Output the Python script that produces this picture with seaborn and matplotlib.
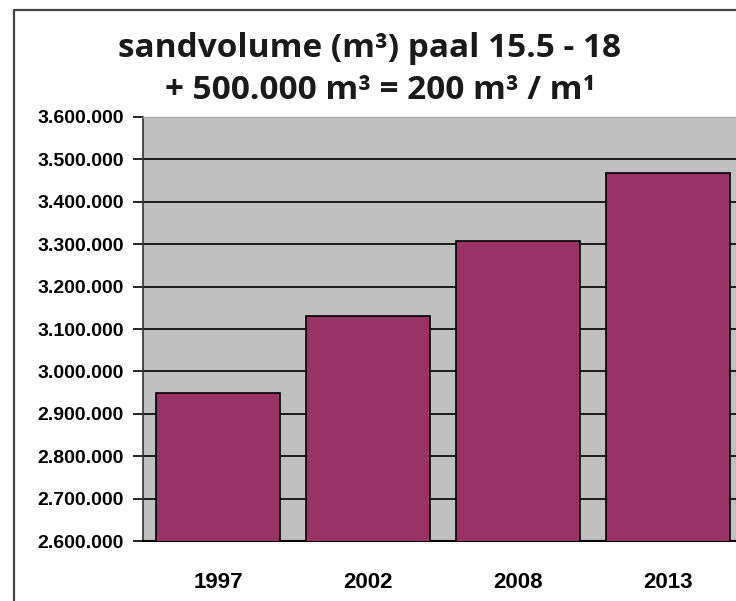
import matplotlib
matplotlib.use("Agg")
import matplotlib.pyplot as plt
from matplotlib.lines import Line2D
from matplotlib.ticker import FixedLocator, FuncFormatter
import seaborn as sns
import pandas as pd

# ---- data ----
years = ["1997", "2002", "2008", "2013"]
volumes = [2950000, 3130000, 3308000, 3468000]
y_ticks = [2600000 + 100000 * i for i in range(11)]
title_line1 = "sandvolume (m³) paal 15.5 - 18"
title_line2 = "+ 500.000 m³ = 200 m³ / m¹"

df = pd.DataFrame({"jaar": years, "volume": volumes})

sns.set_theme(style="white")
plt.rcParams["font.family"] = ["Liberation Sans", "DejaVu Sans"]

W, H = 736, 601
fig = plt.figure(figsize=(W / 100, H / 100), dpi=100)
ax = fig.add_axes([143 / W, 1 - 541 / H, 600 / W, (541 - 117) / H])
ax.set_facecolor("#C0C0C0")

sns.barplot(data=df, x="jaar", y="volume", color="#993366", saturation=1,
            width=0.833, edgecolor="black", linewidth=1.2, ax=ax, zorder=3)

ax.set_xlim(-0.5, 3.5)
ax.set_ylim(y_ticks[0], y_ticks[-1])
ax.yaxis.set_major_locator(FixedLocator(y_ticks))
ax.yaxis.set_major_formatter(FuncFormatter(lambda v, p: f"{v:,.0f}".replace(",", ".")))
ax.grid(axis="y", color="black", linewidth=1.2, zorder=1)
ax.set_axisbelow(True)

ax.set_xlabel("")
ax.set_ylabel("")

# x ticks between categories
ax.set_xticks([i - 0.5 for i in range(len(years) + 1)], minor=True)
ax.tick_params(axis="x", which="minor", length=6, width=1, color="#555555", direction="out")
ax.tick_params(axis="x", which="major", length=0, pad=22, labelsize=16)
ax.tick_params(axis="y", which="major", length=7, width=1.2, color="black", direction="out",
               pad=7, labelsize=14, left=True)
for lab in ax.get_xticklabels() + ax.get_yticklabels():
    lab.set_fontweight("bold")
    lab.set_color("black")

ax.spines["right"].set_visible(False)
ax.spines["left"].set_color("#333333")
ax.spines["left"].set_linewidth(1.2)
ax.spines["bottom"].set_color("black")
ax.spines["bottom"].set_linewidth(1.5)
ax.spines["top"].set_color("#A8A8A8")
ax.spines["top"].set_linewidth(1)

# outer chart border (top and left visible)
fig.add_artist(Line2D([14 / W, 1], [1 - 10 / H, 1 - 10 / H], color="#444444", lw=1.6,
                      transform=fig.transFigure))
fig.add_artist(Line2D([14 / W, 14 / W], [0, 1 - 10 / H], color="#444444", lw=1.6,
                      transform=fig.transFigure))

tfam = ["Open Sans", "DejaVu Sans"]
fig.text(370 / W, 1 - 57 / H, title_line1, ha="center", va="baseline",
         fontsize=24, fontweight="bold", family=tfam, color="#1a1a1a")
fig.text(380 / W, 1 - 99 / H, title_line2, ha="center", va="baseline",
         fontsize=24, fontweight="bold", family=tfam, color="#1a1a1a")

fig.savefig("out.png", dpi=100)
